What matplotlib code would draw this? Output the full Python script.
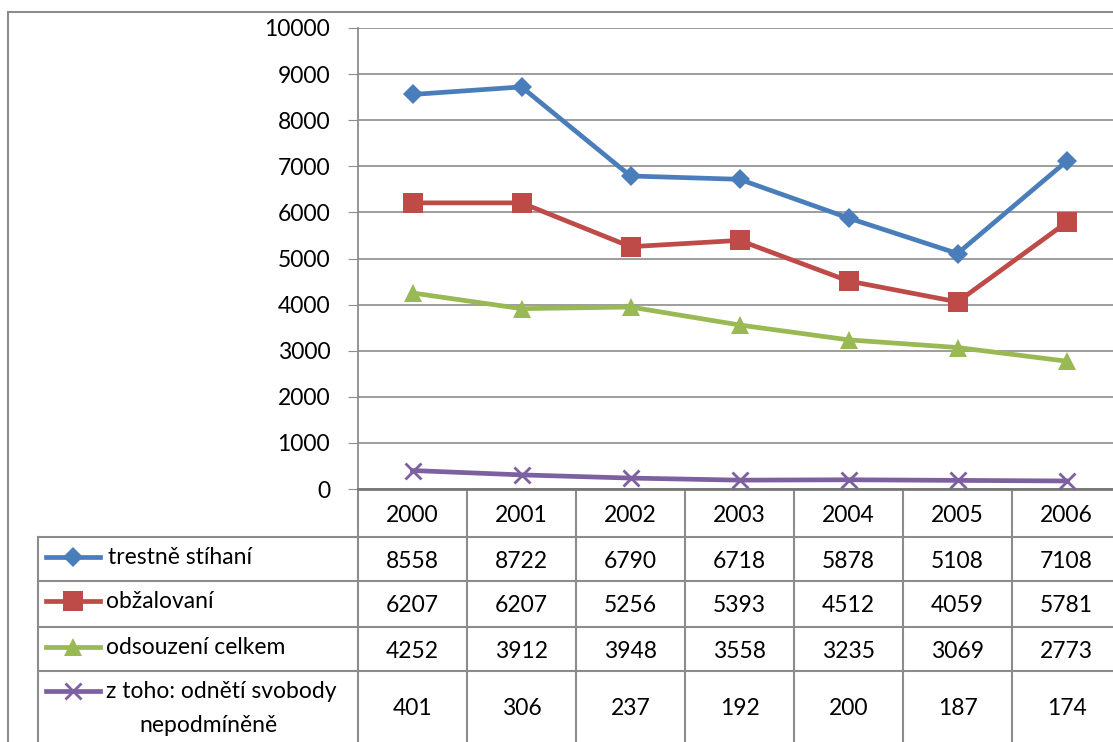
import matplotlib.pyplot as plt
from matplotlib.transforms import blended_transform_factory

plt.rcParams['font.family'] = ['Lato', 'DejaVu Sans']

years = ['2000', '2001', '2002', '2003', '2004', '2005', '2006']
series_names = ['trestně stíhaní', 'obžalovaní', 'odsouzení celkem',
                'z toho: odnětí svobody\nnepodmíněně']
trestne_stihani = [8558, 8722, 6790, 6718, 5878, 5108, 7108]
obzalovani = [6207, 6207, 5256, 5393, 4512, 4059, 5781]
odsouzeni_celkem = [4252, 3912, 3948, 3558, 3235, 3069, 2773]
odneti_svobody = [401, 306, 237, 192, 200, 187, 174]
y_ticks = [0, 1000, 2000, 3000, 4000, 5000, 6000, 7000, 8000, 9000, 10000]

all_series = [trestne_stihani, obzalovani, odsouzeni_celkem, odneti_svobody]
colors = ['#4A7EBB', '#BE4B48', '#98B954', '#7D60A0']
markers = ['D', 's', '^', 'x']
msizes = [10, 14, 13, 11]
FS = 16.5

W, H = 1113, 742
grid_c = '#8C8C8C'
fig = plt.figure(figsize=(W / 100, H / 100), dpi=100)

# overlay in pixel coordinates for the table and frame
bg = fig.add_axes([0, 0, 1, 1])
bg.set_xlim(0, W)
bg.set_ylim(H, 0)
bg.axis('off')

# plot area: x 358..1121 px, y 28..489 px
ax = fig.add_axes([358 / W, (H - 489) / H, (1121 - 358) / W, (489 - 28) / H])
x = list(range(len(years)))
for vals, c, m, ms in zip(all_series, colors, markers, msizes):
    ax.plot(x, vals, color=c, lw=3.4, marker=m, markersize=ms,
            markeredgewidth=2 if m == 'x' else 0, markeredgecolor=c,
            clip_on=False, zorder=3)
ax.set_xlim(-0.5, len(years) - 0.5)
ax.set_ylim(0, 10000)
ax.set_yticks(y_ticks)
ax.set_yticklabels([str(v) for v in y_ticks], fontsize=FS)
ax.set_xticks([])
ax.grid(axis='y', color=grid_c, lw=1.2)
ax.tick_params(axis='y', length=7, color=grid_c, pad=13)
for s in ['top', 'right']:
    ax.spines[s].set_visible(False)
ax.spines['left'].set_color(grid_c)
ax.spines['left'].set_linewidth(1.3)
ax.spines['bottom'].set_color('#777777')
ax.spines['bottom'].set_linewidth(2)

# outer chart frame
bg.plot([8, W], [12, 12], color=grid_c, lw=1.5)
bg.plot([8, 8], [12, H], color=grid_c, lw=1.5)

# data table
tr = blended_transform_factory(ax.transData, bg.transData)
row_edges = [489, 537, 581, 627, 671, H]
for i in range(len(years) + 1):
    bg.plot([i - 0.5, i - 0.5], [489, H], color=grid_c, lw=1.5, transform=tr)
for yy in row_edges[1:-1]:
    bg.plot([38, W], [yy, yy], color=grid_c, lw=1.5)
bg.plot([38, 38], [537, H], color=grid_c, lw=1.5)

hdr_y = (row_edges[0] + row_edges[1]) / 2 + 2
for i, yr in enumerate(years):
    bg.text(i, hdr_y, yr, transform=tr, ha='center', va='center', fontsize=FS)

for r, (name, vals, c, m, ms) in enumerate(zip(series_names, all_series, colors, markers, msizes)):
    top, bot = row_edges[r + 1], row_edges[r + 2]
    cy = (top + bot) / 2 + 2
    for i, v in enumerate(vals):
        bg.text(i, cy, str(v), transform=tr, ha='center', va='center', fontsize=FS)
    ly = top + 20
    bg.plot([46, 100], [ly, ly], color=c, lw=3.4)
    bg.plot([73], [ly], color=c, marker=m, markersize=ms,
            markeredgewidth=2 if m == 'x' else 0, markeredgecolor=c)
    if r < 3:
        bg.text(108 if r == 0 else 106, ly + 1, name, ha='left', va='center', fontsize=FS)
    else:
        lines = name.split('\n')
        bg.text(106, ly + 1, lines[0], ha='left', va='center', fontsize=FS)
        bg.text(208, ly + 34, lines[1], ha='center', va='center', fontsize=FS)

fig.savefig('out.png', dpi=100)
